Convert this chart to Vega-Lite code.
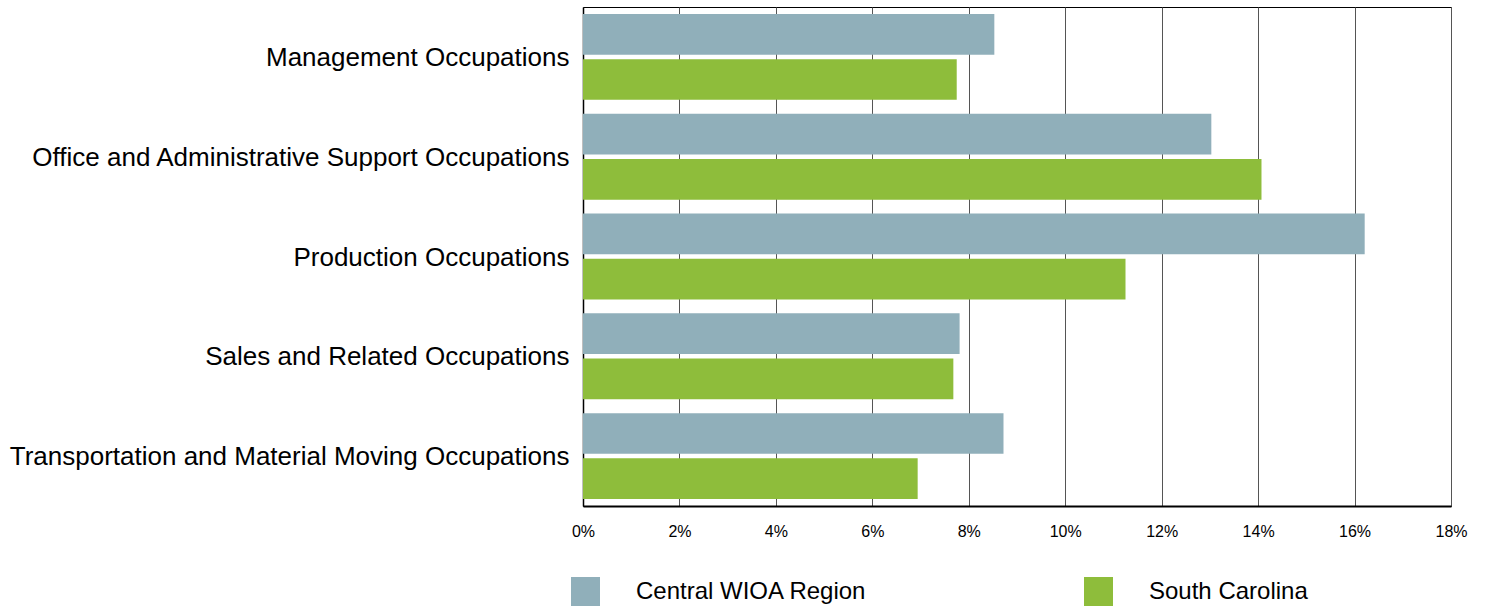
{
  "$schema": "https://vega.github.io/schema/vega-lite/v6.json",
  "width": 868,
  "height": 499,
  "autosize": {"type": "none"},
  "padding": {"left": 583, "top": 7, "right": 35, "bottom": 100},
  "background": "white",
  "config": {
    "font": "Liberation Sans",
    "view": {"stroke": "#000000", "strokeWidth": 1}
  },
  "data": {
    "values": [
      {"occupation": "Management Occupations", "region": "Central WIOA Region", "share": 0.0853},
      {"occupation": "Management Occupations", "region": "South Carolina", "share": 0.0775},
      {"occupation": "Office and Administrative Support Occupations", "region": "Central WIOA Region", "share": 0.1303},
      {"occupation": "Office and Administrative Support Occupations", "region": "South Carolina", "share": 0.1407},
      {"occupation": "Production Occupations", "region": "Central WIOA Region", "share": 0.1621},
      {"occupation": "Production Occupations", "region": "South Carolina", "share": 0.1125},
      {"occupation": "Sales and Related Occupations", "region": "Central WIOA Region", "share": 0.0781},
      {"occupation": "Sales and Related Occupations", "region": "South Carolina", "share": 0.0768},
      {"occupation": "Transportation and Material Moving Occupations", "region": "Central WIOA Region", "share": 0.0872},
      {"occupation": "Transportation and Material Moving Occupations", "region": "South Carolina", "share": 0.0694}
    ]
  },
  "mark": {"type": "bar"},
  "encoding": {
    "y": {
      "field": "occupation",
      "type": "nominal",
      "sort": null,
      "scale": {"paddingInner": 0, "paddingOuter": 0},
      "axis": {
        "title": null,
        "domain": true,
        "domainColor": "#000000",
        "domainWidth": 1.5,
        "ticks": false,
        "labelFontSize": 26,
        "labelColor": "#000000",
        "labelPadding": 14,
        "labelLimit": 600,
        "labelOffset": 1
      }
    },
    "yOffset": {
      "field": "region",
      "type": "nominal",
      "scale": {"paddingInner": 0.1, "paddingOuter": 0.154}
    },
    "x": {
      "field": "share",
      "type": "quantitative",
      "scale": {"domain": [0, 0.18], "nice": false},
      "axis": {
        "title": null,
        "format": ".0%",
        "values": [0, 0.02, 0.04, 0.06, 0.08, 0.1, 0.12, 0.14, 0.16, 0.18],
        "grid": true,
        "gridColor": "#555555",
        "gridWidth": 1,
        "domainColor": "#000000",
        "domainWidth": 2,
        "ticks": false,
        "labelFontSize": 16,
        "labelColor": "#000000",
        "labelPadding": 17,
        "labelFlush": false
      }
    },
    "color": {
      "field": "region",
      "type": "nominal",
      "scale": {
        "domain": ["Central WIOA Region", "South Carolina"],
        "range": ["#90AFBA", "#8EBD3B"]
      },
      "legend": {
        "title": null,
        "orient": "none",
        "legendX": -12,
        "legendY": 570,
        "direction": "horizontal",
        "columns": 2,
        "columnPadding": 217,
        "symbolType": "square",
        "symbolSize": 841,
        "symbolStrokeWidth": 0,
        "symbolOpacity": 1,
        "labelFontSize": 24,
        "labelColor": "#000000",
        "labelOffset": 36,
        "labelLimit": 400
      }
    }
  }
}
